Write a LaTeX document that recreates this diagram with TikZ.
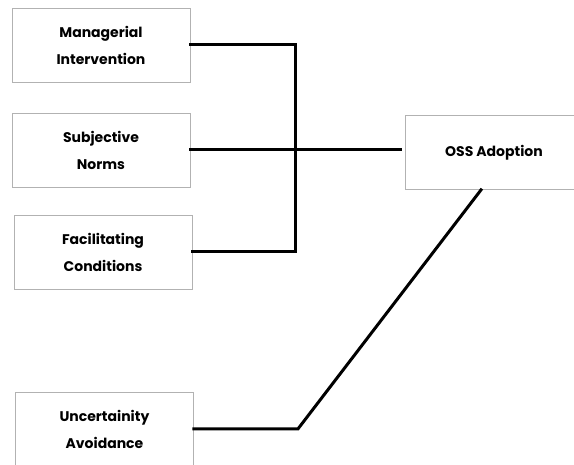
\documentclass[tikz,border=0pt]{standalone}
\usepackage{fontspec}
\setmainfont{Poppins}
\usetikzlibrary{calc}

\tikzset{
  factor/.style={draw=black!30, line width=0.8pt, minimum width=178pt, minimum height=74pt,
    align=center, font=\fontsize{14}{27}\selectfont\bfseries, inner sep=0pt},
  link/.style={line width=3pt, line cap=rect}
}

\begin{document}
\begin{tikzpicture}[x=1pt,y=-1pt]
  \useasboundingbox (0,0) rectangle (574,465);
  \node[factor] (mi) at (101,45) {Managerial\\Intervention};
  \node[factor] (sn) at (101,150) {Subjective\\Norms};
  \node[factor] (fc) at (103,252) {Facilitating\\Conditions};
  \node[factor] (ua) at (104.5,429) {Uncertainity\\Avoidance};
  \node[factor] (oss) at (494,152.5) {OSS Adoption};
  \draw[link] (mi.east) -- ++(105,0) |- (fc.east);
  \draw[link, shorten >=4pt] (sn.east) -- (sn.east -| oss.west);
  \draw[link] (ua.east) -- ++(104,0) -- ([xshift=-13pt]oss.south);
\end{tikzpicture}
\end{document}
